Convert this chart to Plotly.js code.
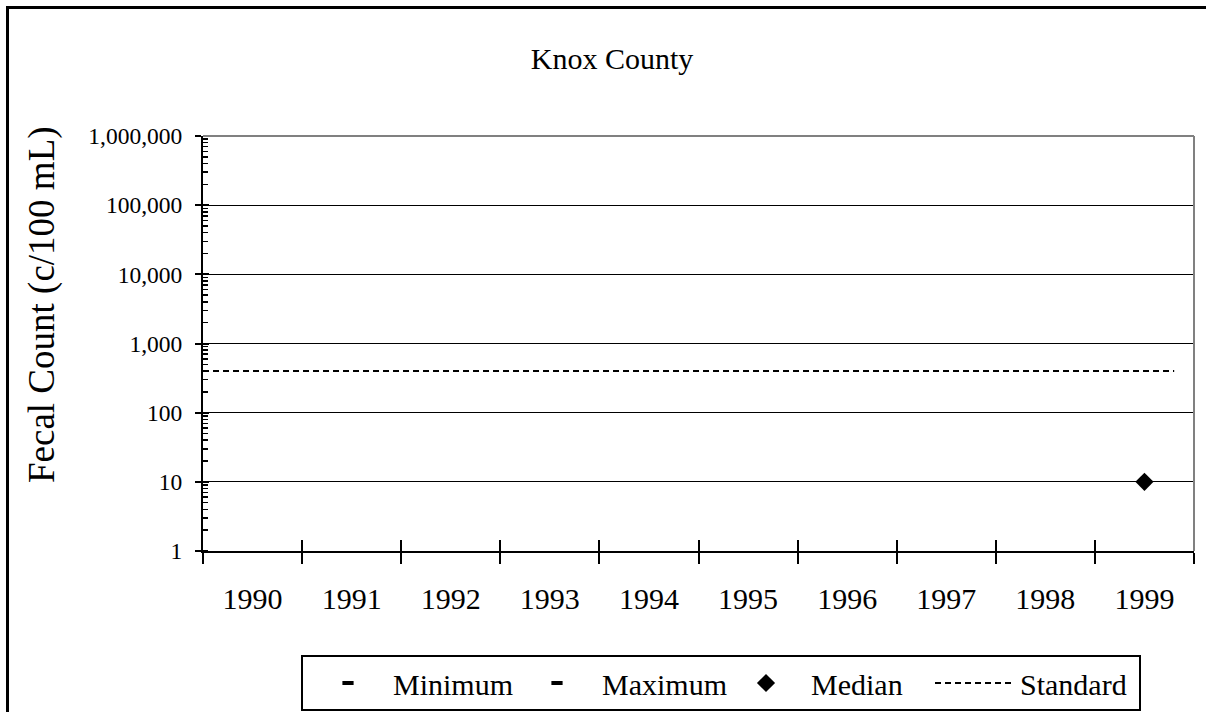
<!DOCTYPE html>
<html>
<head>
<meta charset="utf-8">
<script src="https://cdn.plot.ly/plotly-3.0.1.min.js"></script>
<style>
  html, body { margin: 0; padding: 0; background: #fff; }
  #wrap { position: relative; width: 1206px; height: 712px; overflow: hidden; }
  #chart { width: 1206px; height: 712px; }
  #frame { position: absolute; left: 6px; top: 6px; width: 1220px; height: 730px;
           border-left: 3px solid #000; border-top: 3px solid #000; pointer-events: none; }
</style>
</head>
<body>
<div id="wrap">
  <div id="chart"></div>
  <div id="frame"></div>
</div>
<script>
// ---- data ----
const years = ['1990','1991','1992','1993','1994','1995','1996','1997','1998','1999'];
const minimumValues = [null, null, null, null, null, null, null, null, null, 10];
const maximumValues = [null, null, null, null, null, null, null, null, null, 10];
const medianValues  = [null, null, null, null, null, null, null, null, null, 10];
const standardValue = [400, 400];
const standardYears = [1989.5, 1999.3];
const yTickValues = [1, 10, 100, 1000, 10000, 100000, 1000000];
const yTickLabels = ['1', '10', '100', '1,000', '10,000', '100,000', '1,000,000'];

const serif = '"Liberation Serif", "Times New Roman", Times, serif';

const traces = [
  {
    name: 'Minimum', type: 'scatter', mode: 'markers', x: years, y: minimumValues,
    marker: { symbol: 'line-ew-open', size: 8, color: '#000', line: { color: '#000', width: 4 } },
    xaxis: 'x', yaxis: 'y2'
  },
  {
    name: 'Maximum', type: 'scatter', mode: 'markers', x: years, y: maximumValues,
    marker: { symbol: 'line-ew-open', size: 8, color: '#000', line: { color: '#000', width: 4 } },
    xaxis: 'x', yaxis: 'y'
  },
  {
    name: 'Median', type: 'scatter', mode: 'markers', x: years, y: medianValues,
    marker: { symbol: 'diamond', size: 14, color: '#000', line: { width: 0 } },
    xaxis: 'x', yaxis: 'y'
  },
  {
    name: 'Standard', type: 'scatter', mode: 'lines', x: standardYears, y: standardValue,
    line: { color: '#000', width: 2, dash: '6px,4px' },
    xaxis: 'x2', yaxis: 'y'
  }
];

const firstYear = Number(years[0]);
const lastYear = Number(years[years.length - 1]);
const boundaryTicks = years.map(y => Number(y) - 0.5).concat([lastYear + 0.5]);

const layout = {
  width: 1206, height: 712,
  paper_bgcolor: 'rgba(0,0,0,0)', plot_bgcolor: '#fff',
  margin: { l: 203, r: 12, t: 136, b: 161 },
  font: { family: serif, color: '#000' },
  title: {
    text: 'Knox County', font: { family: serif, size: 30, color: '#000' },
    x: 612 / 1206, xref: 'container', xanchor: 'center',
    y: 1 - 58 / 712, yref: 'container', yanchor: 'middle'
  },
  showlegend: true,
  legend: {
    orientation: 'h', xref: 'container', yref: 'container',
    x: 301 / 1206, xanchor: 'left', y: 1 - 655 / 712, yanchor: 'top',
    bordercolor: '#000', borderwidth: 2, bgcolor: '#fff',
    font: { family: serif, size: 30, color: '#000' },
    itemwidth: 80, entrywidth: 114, traceorder: 'normal'
  },
  xaxis: {
    type: 'category', categoryorder: 'array', categoryarray: years,
    range: [-0.5, years.length - 0.5],
    tickson: 'boundaries', ticks: 'outside', ticklen: 11, tickwidth: 2, tickcolor: '#000',
    showline: true, linecolor: '#000', linewidth: 2,
    showgrid: false, zeroline: false,
    tickfont: { family: serif, size: 30, color: '#000' },
    ticklabelstandoff: 20, fixedrange: true
  },
  xaxis2: {
    type: 'linear', overlaying: 'x', anchor: 'y', side: 'bottom',
    range: [firstYear - 0.5, lastYear + 0.5],
    tickmode: 'array', tickvals: boundaryTicks,
    ticks: 'inside', ticklen: 11, tickwidth: 2, tickcolor: '#000',
    showticklabels: false, showgrid: false, showline: false, zeroline: false
  },
  yaxis: {
    type: 'log', range: [0, 6],
    tickmode: 'array', tickvals: yTickValues, ticktext: yTickLabels,
    ticks: 'outside', ticklen: 6, tickwidth: 2, tickcolor: '#000',
    showline: true, linecolor: '#000', linewidth: 2,
    showgrid: true, gridcolor: '#000', gridwidth: 1, zeroline: false,
    tickfont: { family: serif, size: 23.5, color: '#000' },
    ticklabelstandoff: 8,
    minor: { ticks: 'inside', ticklen: 5, tickwidth: 1.5, tickcolor: '#000', dtick: 'D1', showgrid: false }
  },
  yaxis2: {
    type: 'log', range: [0, 6], overlaying: 'y', anchor: 'x', side: 'left',
    tickmode: 'array', tickvals: yTickValues,
    ticks: 'inside', ticklen: 6, tickwidth: 2, tickcolor: '#000',
    showticklabels: false, showgrid: false, showline: false, zeroline: false
  },
  shapes: [
    { type: 'line', xref: 'paper', yref: 'paper', x0: 0, x1: 1, y0: 1, y1: 1,
      line: { color: '#808080', width: 2 }, layer: 'above' },
    { type: 'line', xref: 'paper', yref: 'paper', x0: 1, x1: 1, y0: 0, y1: 1,
      line: { color: '#808080', width: 2 }, layer: 'above' }
  ],
  annotations: [
    { text: 'Fecal Count (c/100 mL)', textangle: -90, showarrow: false,
      xref: 'paper', yref: 'paper',
      x: -161 / 991, xanchor: 'center', y: (551 - 305) / 415, yanchor: 'middle',
      font: { family: serif, size: 37, color: '#000' } }
  ]
};

Plotly.newPlot('chart', traces, layout, { displayModeBar: false, staticPlot: true });
</script>
</body>
</html>
